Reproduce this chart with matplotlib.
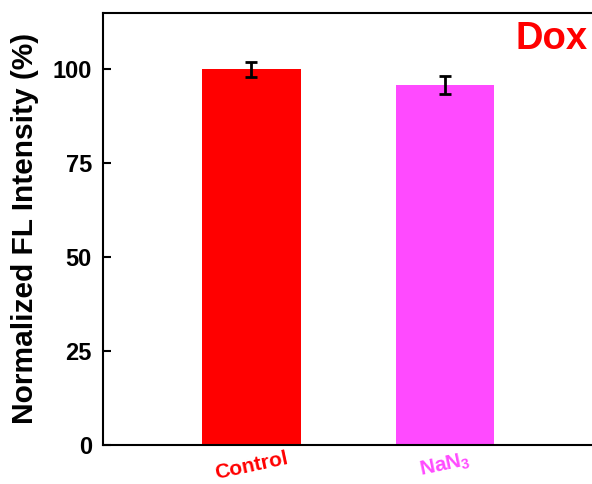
import matplotlib
matplotlib.use('Agg')
import matplotlib.pyplot as plt

groups = ['Control', 'NaN$_3$']
values = [100.0, 95.9]
errors = [2.0, 2.4]
colors = ['#ff0000', '#ff4aff']

plt.rcParams['font.family'] = ['Liberation Sans', 'DejaVu Sans']
plt.rcParams['font.weight'] = 'bold'
plt.rcParams['mathtext.default'] = 'regular'

fig = plt.figure(figsize=(5.92, 4.84), dpi=100)
ax = fig.add_axes([103 / 592, (484 - 445) / 484, (600 - 103) / 592, (445 - 13) / 484])

x = list(range(len(groups)))
ax.bar(x, values, width=0.51, color=colors)
ax.errorbar(x, values, yerr=errors, fmt='none', ecolor='black',
            elinewidth=2, capsize=4, capthick=2)

ax.set_xlim(-0.767, 1.8)
ax.set_ylim(0, 115)
ax.set_yticks([0, 25, 50, 75, 100])
ax.tick_params(axis='y', direction='in', length=6, width=1.5, labelsize=17, pad=8)
ax.tick_params(axis='x', length=0, pad=3)
ax.set_xticks(x)
ax.set_xticklabels(groups, rotation=12, fontsize=15, fontweight='bold')
for lbl, c in zip(ax.get_xticklabels(), colors):
    lbl.set_color(c)

for s in ax.spines.values():
    s.set_linewidth(1.5)

fig.text(25 / 592, 0.527, 'Normalized FL Intensity (%)', fontsize=21.5,
         fontweight='bold', rotation=90, ha='center', va='center')

ax.text(1.548, 108, 'Dox', color='#ff0000', fontsize=27.5, fontweight='bold',
        ha='center', va='center')

fig.savefig('out.png', dpi=100)
